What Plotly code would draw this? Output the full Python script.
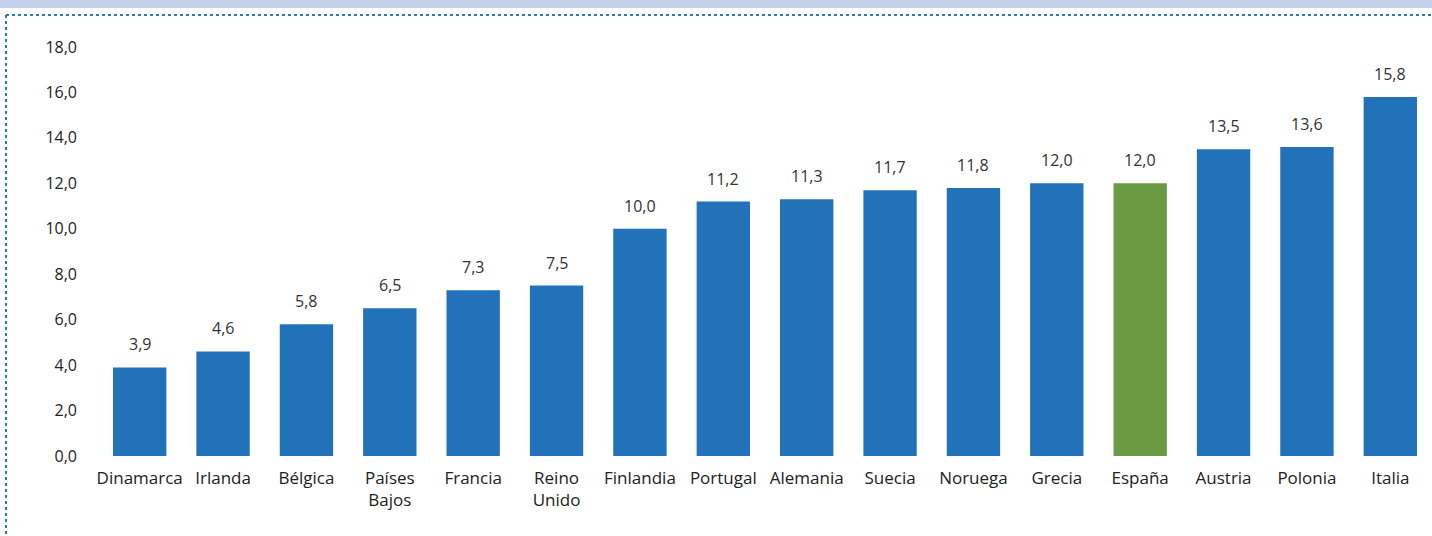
import plotly.graph_objects as go

countries = ["Dinamarca", "Irlanda", "Bélgica", "Países<br>Bajos", "Francia", "Reino<br>Unido",
             "Finlandia", "Portugal", "Alemania", "Suecia", "Noruega", "Grecia", "España",
             "Austria", "Polonia", "Italia"]
values = [3.9, 4.6, 5.8, 6.5, 7.3, 7.5, 10.0, 11.2, 11.3, 11.7, 11.8, 12.0, 12.0, 13.5, 13.6, 15.8]
highlight = "España"
y_ticks = [0, 2, 4, 6, 8, 10, 12, 14, 16, 18]

BLUE = "#2272ba"
GREEN = "#6b9a45"
colors = [GREEN if c == highlight else BLUE for c in countries]

W, H = 1432, 536
L, R, T, B = 98, 0, 47, 80

fig = go.Figure(go.Bar(
    x=countries, y=values, marker=dict(color=colors, line=dict(width=0)),
    hoverinfo="x+y",
))

annotations = [
    dict(x=c, y=v, xref="x", yref="y", text=f"{v:.1f}".replace(".", ","), showarrow=False,
         yanchor="bottom", yshift=10, font=dict(family="Open Sans", size=16, color="#333333"))
    for c, v in zip(countries, values)
]

def px2x(px):
    return (px - L) / (W - L - R)

def py2y(py):
    return (H - B - py) / (H - T - B)

shapes = [
    dict(type="rect", xref="paper", yref="paper", x0=px2x(0), x1=px2x(W), y0=py2y(8), y1=py2y(0),
         fillcolor="#c5d1ea", line=dict(width=0), layer="below"),
    dict(type="line", xref="paper", yref="paper", x0=px2x(6), x1=px2x(W), y0=py2y(15), y1=py2y(15),
         line=dict(color="#2e75c4", width=2, dash="dot")),
    dict(type="line", xref="paper", yref="paper", x0=px2x(6), x1=px2x(6), y0=py2y(15), y1=py2y(H),
         line=dict(color="#2e75c4", width=2, dash="dot")),
]

fig.update_layout(
    width=W, height=H,
    margin=dict(l=L, r=R, t=T, b=B),
    paper_bgcolor="white", plot_bgcolor="white",
    separators=", ",
    bargap=0.36,
    showlegend=False,
    shapes=shapes,
    annotations=annotations,
    font=dict(family="Open Sans", size=17, color="#222222"),
    xaxis=dict(showgrid=False, showline=False, ticks="", ticklabelstandoff=10,
               tickfont=dict(size=17, color="#222222")),
    yaxis=dict(range=[0, 18], tickvals=y_ticks, tickformat=".1f", showgrid=False, zeroline=False,
               showline=False, ticks="", ticklabelstandoff=20,
               tickfont=dict(size=16, color="#222222")),
)

fig.write_html("out.html", config={"displayModeBar": False},
               post_script="document.body.style.margin='0';document.body.style.padding='0';")
